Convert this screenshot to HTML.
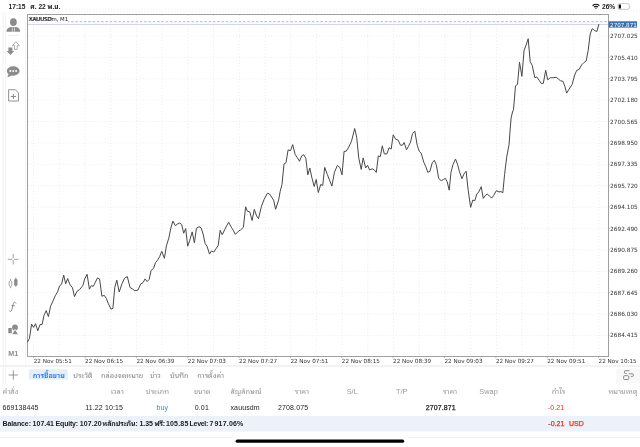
<!DOCTYPE html>
<html><head><meta charset="utf-8">
<style>
html,body{margin:0;padding:0;background:#fff;}
body{width:640px;height:447px;position:relative;overflow:hidden;font-family:"Liberation Sans","Noto Sans Thai Looped","Noto Sans Thai",sans-serif;color:#222;}
.a{position:absolute;white-space:nowrap;line-height:1;}
svg{position:absolute;left:0;top:0;}
.hd{color:#999;font-size:7.4px;top:388px;}
.rw{color:#222;font-size:7px;top:404.3px;letter-spacing:0.12px;}
.tab{color:#8a8a8e;font-size:7.3px;top:371.5px;}
.r{text-align:right;}
.bl{top:419.8px;font-size:7px;font-weight:bold;color:#222;}
</style></head><body>
<svg width="640" height="447" viewBox="0 0 640 447">
  <g stroke="#e6e6e6" stroke-width="0.8" stroke-dasharray="1,2.2"><line x1="33.5" y1="15" x2="33.5" y2="356"/><line x1="59.2" y1="15" x2="59.2" y2="356"/><line x1="84.9" y1="15" x2="84.9" y2="356"/><line x1="110.7" y1="15" x2="110.7" y2="356"/><line x1="136.4" y1="15" x2="136.4" y2="356"/><line x1="162.1" y1="15" x2="162.1" y2="356"/><line x1="187.8" y1="15" x2="187.8" y2="356"/><line x1="213.5" y1="15" x2="213.5" y2="356"/><line x1="239.3" y1="15" x2="239.3" y2="356"/><line x1="265.0" y1="15" x2="265.0" y2="356"/><line x1="290.7" y1="15" x2="290.7" y2="356"/><line x1="316.4" y1="15" x2="316.4" y2="356"/><line x1="342.1" y1="15" x2="342.1" y2="356"/><line x1="367.9" y1="15" x2="367.9" y2="356"/><line x1="393.6" y1="15" x2="393.6" y2="356"/><line x1="419.3" y1="15" x2="419.3" y2="356"/><line x1="445.0" y1="15" x2="445.0" y2="356"/><line x1="470.7" y1="15" x2="470.7" y2="356"/><line x1="496.5" y1="15" x2="496.5" y2="356"/><line x1="522.2" y1="15" x2="522.2" y2="356"/><line x1="547.9" y1="15" x2="547.9" y2="356"/><line x1="573.6" y1="15" x2="573.6" y2="356"/><line x1="599.3" y1="15" x2="599.3" y2="356"/><line x1="28" y1="36.0" x2="608" y2="36.0"/><line x1="28" y1="57.4" x2="608" y2="57.4"/><line x1="28" y1="78.8" x2="608" y2="78.8"/><line x1="28" y1="100.1" x2="608" y2="100.1"/><line x1="28" y1="121.5" x2="608" y2="121.5"/><line x1="28" y1="142.9" x2="608" y2="142.9"/><line x1="28" y1="164.3" x2="608" y2="164.3"/><line x1="28" y1="185.7" x2="608" y2="185.7"/><line x1="28" y1="207.0" x2="608" y2="207.0"/><line x1="28" y1="228.4" x2="608" y2="228.4"/><line x1="28" y1="249.8" x2="608" y2="249.8"/><line x1="28" y1="271.2" x2="608" y2="271.2"/><line x1="28" y1="292.6" x2="608" y2="292.6"/><line x1="28" y1="313.9" x2="608" y2="313.9"/><line x1="28" y1="335.3" x2="608" y2="335.3"/></g>
  <line x1="28" y1="21.7" x2="608" y2="21.7" stroke="#b4bcb4" stroke-width="1" stroke-dasharray="2.6,1.7"/>
  <line x1="28" y1="24.4" x2="608" y2="24.4" stroke="#bccadb" stroke-width="0.8"/>
  <rect x="27.5" y="14.5" width="581" height="342" fill="none" stroke="#a0a0a0" stroke-width="1"/>
  <path d="M27.3,342.3 L29.4,338.6 L31.6,324.1 L33.6,327.4 L35.5,323.7 L37.8,330.8 L40.0,324.6 L42.2,324.4 L43.9,315.7 L46.2,310.6 L48.4,316.6 L50.6,306.2 L53.4,300.0 L55.2,295.8 L57.6,291.8 L59.6,285.8 L61.6,284.2 L63.7,275.1 L65.7,283.8 L67.7,278.5 L69.7,284.2 L72.5,287.8 L74.5,296.6 L76.9,291.4 L79.4,289.8 L82.8,285.7 L84.7,279.0 L87.1,274.3 L89.4,289.2 L91.3,285.7 L93.3,286.3 L95.4,282.1 L97.5,277.9 L99.6,279.0 L101.9,296.2 L104.3,295.4 L106.3,298.3 L108.2,303.3 L111.0,309.2 L112.9,308.3 L114.8,287.3 L116.8,280.1 L119.2,292.0 L122.0,283.7 L124.6,278.2 L127.3,276.6 L130.1,287.6 L132.5,288.9 L134.8,290.7 L138.0,290.1 L140.6,284.1 L143.1,282.5 L145.1,278.9 L147.1,281.5 L149.1,279.5 L151.1,270.4 L153.5,268.4 L155.5,262.7 L157.5,260.3 L159.6,256.7 L161.8,251.3 L164.4,258.3 L166.4,245.8 L168.8,238.2 L170.8,228.1 L172.9,221.1 L175.3,225.7 L177.3,224.1 L179.7,223.1 L181.7,224.5 L183.7,233.2 L185.7,228.5 L187.7,246.2 L189.8,240.2 L192.2,231.9 L194.4,242.8 L196.4,228.3 L199.1,226.7 L201.1,227.9 L203.1,234.0 L205.1,243.4 L207.1,246.4 L209.5,254.1 L211.5,250.9 L213.8,252.1 L216.2,248.5 L218.2,245.4 L220.2,230.3 L222.2,234.8 L224.6,229.9 L226.6,225.9 L228.7,222.3 L231.3,227.3 L233.3,230.3 L235.3,234.4 L238.3,231.3 L240.7,229.9 L243.4,227.3 L245.6,206.8 L247.3,211.1 L249.8,211.9 L252.1,220.5 L254.3,209.3 L256.6,216.0 L258.5,218.6 L261.3,206.8 L264.0,199.6 L267.4,193.2 L269.6,194.0 L273.6,200.1 L275.6,209.3 L278.6,200.1 L280.2,191.3 L282.0,184.5 L284.0,164.0 L286.0,162.7 L288.1,149.9 L290.5,150.7 L292.7,144.6 L295.1,154.3 L297.1,157.3 L299.5,161.3 L301.7,155.9 L303.8,154.7 L305.8,158.3 L307.8,174.8 L309.8,168.0 L311.8,177.4 L314.2,186.5 L316.2,179.5 L318.3,192.5 L320.7,184.5 L322.7,185.5 L324.7,167.4 L327.3,174.4 L329.5,180.1 L331.9,186.1 L334.4,172.4 L337.4,165.4 L340.0,167.8 L342.0,174.8 L344.1,151.3 L346.1,151.3 L348.7,147.2 L351.5,141.2 L354.7,128.5 L356.7,137.2 L358.8,158.3 L361.2,169.4 L363.2,157.9 L365.6,168.0 L367.6,165.4 L369.6,170.0 L372.2,168.8 L374.3,170.0 L376.3,172.4 L378.3,155.9 L380.3,156.7 L382.3,145.8 L384.3,153.9 L386.9,153.9 L389.0,147.8 L391.2,149.0 L393.2,134.8 L395.6,139.1 L398.1,140.1 L400.5,145.2 L402.5,145.2 L404.1,142.5 L406.5,149.8 L408.5,146.2 L410.5,142.1 L412.5,133.7 L414.8,131.1 L417.2,145.2 L419.2,151.2 L421.2,153.2 L423.8,162.3 L425.8,166.7 L427.8,172.3 L429.9,171.3 L432.3,162.7 L434.3,160.3 L436.3,164.7 L438.7,178.4 L441.3,180.8 L443.4,179.4 L445.4,178.4 L447.2,181.8 L449.2,190.2 L451.0,172.2 L453.1,164.2 L455.5,159.1 L457.5,164.2 L459.5,171.8 L461.9,178.7 L464.1,173.8 L466.1,171.2 L468.2,190.3 L470.6,207.4 L472.8,200.0 L474.8,200.8 L476.8,194.0 L478.8,191.9 L481.2,186.7 L483.3,198.4 L485.3,195.4 L487.3,194.0 L489.3,196.0 L491.7,198.0 L493.7,195.4 L496.3,190.7 L499.0,191.9 L501.0,191.6 L502.8,192.8 L504.6,174.3 L506.7,157.2 L509.1,144.2 L510.1,130.1 L511.1,118.0 L512.5,112.0 L513.5,109.6 L515.5,85.8 L517.5,84.4 L519.5,62.2 L521.9,76.3 L524.1,50.2 L526.1,45.1 L528.2,38.7 L530.2,61.6 L532.2,65.3 L534.8,77.7 L536.8,76.9 L539.2,80.4 L541.2,83.4 L543.3,83.4 L545.7,70.3 L547.7,79.8 L550.3,77.7 L553.3,77.7 L556.3,77.3 L558.4,79.0 L560.5,80.8 L562.9,81.2 L564.8,86.3 L566.7,93.1 L569.1,89.1 L572.1,84.5 L574.7,75.0 L576.7,70.4 L579.2,69.4 L581.6,64.9 L584.2,62.3 L586.2,60.9 L588.2,50.2 L590.2,34.1 L592.2,28.7 L594.9,30.7 L596.9,31.5 L598.9,24.1" fill="none" stroke="#484848" stroke-width="1.0" stroke-linejoin="round"/>
  <g font-family="DejaVu Sans" font-size="5.8" fill="#333"><text x="610.1" y="38.1">2707.025</text><text x="610.1" y="59.5">2705.410</text><text x="610.1" y="80.9">2703.795</text><text x="610.1" y="102.2">2702.180</text><text x="610.1" y="123.6">2700.565</text><text x="610.1" y="145.0">2698.950</text><text x="610.1" y="166.4">2697.335</text><text x="610.1" y="187.8">2695.720</text><text x="610.1" y="209.1">2694.105</text><text x="610.1" y="230.5">2692.490</text><text x="610.1" y="251.9">2690.875</text><text x="610.1" y="273.3">2689.260</text><text x="610.1" y="294.7">2687.645</text><text x="610.1" y="316.0">2686.030</text><text x="610.1" y="337.4">2684.415</text></g>
  <g font-family="DejaVu Sans" font-size="5.65" fill="#333"><text x="33.7" y="362.8">22 Nov 05:51</text><text x="85.1" y="362.8">22 Nov 06:15</text><text x="136.4" y="362.8">22 Nov 06:39</text><text x="187.8" y="362.8">22 Nov 07:03</text><text x="239.1" y="362.8">22 Nov 07:27</text><text x="290.4" y="362.8">22 Nov 07:51</text><text x="341.8" y="362.8">22 Nov 08:15</text><text x="393.1" y="362.8">22 Nov 08:39</text><text x="444.5" y="362.8">22 Nov 09:03</text><text x="495.9" y="362.8">22 Nov 09:27</text><text x="547.2" y="362.8">22 Nov 09:51</text><text x="598.6" y="362.8">22 Nov 10:15</text></g>
  <g stroke="#a0a0a0" stroke-width="0.8"><line x1="33.7" y1="356.5" x2="33.7" y2="358"/><line x1="85.1" y1="356.5" x2="85.1" y2="358"/><line x1="136.4" y1="356.5" x2="136.4" y2="358"/><line x1="187.8" y1="356.5" x2="187.8" y2="358"/><line x1="239.1" y1="356.5" x2="239.1" y2="358"/><line x1="290.4" y1="356.5" x2="290.4" y2="358"/><line x1="341.8" y1="356.5" x2="341.8" y2="358"/><line x1="393.1" y1="356.5" x2="393.1" y2="358"/><line x1="444.5" y1="356.5" x2="444.5" y2="358"/><line x1="495.9" y1="356.5" x2="495.9" y2="358"/><line x1="547.2" y1="356.5" x2="547.2" y2="358"/><line x1="598.6" y1="356.5" x2="598.6" y2="358"/><line x1="608.5" y1="36.0" x2="609.8" y2="36.0"/><line x1="608.5" y1="57.4" x2="609.8" y2="57.4"/><line x1="608.5" y1="78.8" x2="609.8" y2="78.8"/><line x1="608.5" y1="100.1" x2="609.8" y2="100.1"/><line x1="608.5" y1="121.5" x2="609.8" y2="121.5"/><line x1="608.5" y1="142.9" x2="609.8" y2="142.9"/><line x1="608.5" y1="164.3" x2="609.8" y2="164.3"/><line x1="608.5" y1="185.7" x2="609.8" y2="185.7"/><line x1="608.5" y1="207.0" x2="609.8" y2="207.0"/><line x1="608.5" y1="228.4" x2="609.8" y2="228.4"/><line x1="608.5" y1="249.8" x2="609.8" y2="249.8"/><line x1="608.5" y1="271.2" x2="609.8" y2="271.2"/><line x1="608.5" y1="292.6" x2="609.8" y2="292.6"/><line x1="608.5" y1="313.9" x2="609.8" y2="313.9"/><line x1="608.5" y1="335.3" x2="609.8" y2="335.3"/></g>
  <rect x="608.6" y="21.3" width="28.4" height="6.3" fill="#3d6ea8"/>
  <text x="610.1" y="26.6" font-family="DejaVu Sans" font-size="5.6" fill="#fff">2707.871</text>
  <rect x="28" y="15" width="40" height="7.4" fill="#fff"/>
  <text x="28.6" y="20.9" font-family="DejaVu Sans" font-size="5.4" fill="#222">XAUUSDm, M1</text>
  <text x="29.2" y="20.9" font-family="DejaVu Sans" font-size="5.4" fill="#222">XAUUSD</text>
  <g stroke="#f0f0f0" stroke-width="0.8" stroke-dasharray="1.5,1.5"><line x1="66" y1="9.2" x2="640" y2="9.2"/><line x1="66" y1="11.4" x2="640" y2="11.4"/></g>
  <!-- left toolbar -->
  <g stroke="#f1f1f1" stroke-width="0.8"><line x1="3.2" y1="12" x2="3.2" y2="384"/><line x1="5.6" y1="12" x2="5.6" y2="384"/><line x1="25.6" y1="12" x2="25.6" y2="366"/></g>
  <g fill="#8c8c8c">
    <ellipse cx="13.4" cy="22.1" rx="3.4" ry="3.9"/>
    <path d="M6.4,31.8 C6.5,29 8,27.6 11,27.1 L15.8,27.1 C18.8,27.6 20,29 20.1,31.8 Z"/>
  </g>
  <path d="M12.3,27.3 L12.3,31.8 M14.5,27.3 L14.5,31.8" stroke="#fff" stroke-width="0.6"/>
  <line x1="8" y1="35.3" x2="18.5" y2="35.3" stroke="#e4e4e4" stroke-width="0.7"/>
  <path d="M8.4,47.4 L12.4,47.4 L12.4,51 L14.1,51 L10.4,55.1 L6.7,51 L8.4,51 Z" fill="#8c8c8c"/>
  <path d="M14.6,49.4 L17.2,49.4 L17.2,45.7 L19.4,45.7 L15.9,41.7 L12.4,45.7 L14.6,45.7 Z" fill="#fff" stroke="#8c8c8c" stroke-width="0.7"/>
  <ellipse cx="13.2" cy="71" rx="6.4" ry="4.7" fill="#8c8c8c"/>
  <path d="M8.9,73.6 L7.3,77.3 L12,75.4 Z" fill="#8c8c8c"/>
  <g fill="#fff"><circle cx="10.3" cy="71" r="0.95"/><circle cx="13.2" cy="71" r="0.95"/><circle cx="16.1" cy="71" r="0.95"/></g>
  <path d="M8.6,89.7 L15.3,89.7 L18.5,92.9 L18.5,101 L8.6,101 Z" fill="none" stroke="#8c8c8c" stroke-width="0.95"/>
  <path d="M13.4,93.9 L13.4,99.1 M10.8,96.5 L16,96.5" stroke="#8c8c8c" stroke-width="1.05"/>
  <g stroke="#8e8e8e" stroke-width="0.85"><path d="M7.8,259.3 L12.3,259.3 M14.1,259.3 L18.5,259.3 M13.2,254 L13.2,258.4 M13.2,260.2 L13.2,264.4"/></g>
  <g stroke="#8c8c8c" stroke-width="0.75"><path d="M10.5,279 L10.5,288.2 M15.8,277.3 L15.8,287"/></g>
  <path d="M10.5,280.4 L11.8,281.6 L11.8,285.6 L10.5,286.8 L9.2,285.6 L9.2,281.6 Z" fill="#fff" stroke="#8c8c8c" stroke-width="0.8"/>
  <path d="M15.8,278.4 L17.5,279.8 L17.5,285 L15.8,286.2 L14.1,285 L14.1,279.8 Z" fill="#8c8c8c"/>
  <path d="M15.9,303.1 C15.3,301.9 13.7,301.9 13.3,303.6 L11.8,309.9 C11.4,311.6 10.3,311.8 9.6,311" fill="none" stroke="#858585" stroke-width="0.95" stroke-linecap="round"/>
  <path d="M11.4,305.7 L14.9,305.7" stroke="#858585" stroke-width="0.85"/>
  <rect x="8.3" y="328" width="3.5" height="5.2" rx="0.5" fill="#8c8c8c"/>
  <circle cx="15" cy="327.4" r="2.9" fill="#8c8c8c"/>
  <path d="M15.1,329.3 L18.5,334.6 L11.7,334.6 Z" fill="#8c8c8c" stroke="#fff" stroke-width="0.7"/>
  <text x="8.3" y="356.1" font-family="Liberation Sans" font-weight="bold" font-size="7.2" fill="#8c8c8c">M1</text>
  <!-- status icons -->
  <g fill="#111"><path d="M592.2,5.3 A5.5,5.5 0 0 1 599.7,5.3 L598.9,6.2 A4.3,4.3 0 0 0 593,6.2 Z"/><path d="M593.6,6.8 A3.6,3.6 0 0 1 598.3,6.8 L597.5,7.6 A2.4,2.4 0 0 0 594.4,7.6 Z"/><path d="M595,8.1 A1.6,1.6 0 0 1 596.9,8.1 L595.95,9 Z"/></g>
  <rect x="618" y="3.6" width="11.3" height="5.8" rx="1.5" fill="none" stroke="#b5b5b5" stroke-width="0.7"/>
  <rect x="618.8" y="4.6" width="2.2" height="3.9" rx="0.6" fill="#111"/>
  <path d="M629.9,5.6 Q631,6.5 629.9,7.4 Z" fill="#b5b5b5"/>
  <!-- bottom panel -->
  <line x1="0" y1="366" x2="640" y2="366" stroke="#eeeeee" stroke-width="1.6"/>
  <path d="M13.3,370.4 L13.3,379.6 M8.7,375 L17.9,375" stroke="#8a8a8a" stroke-width="0.9"/>
  <rect x="29" y="369.3" width="38.7" height="10.4" rx="1.5" fill="#e5effb"/>
  <rect x="616.2" y="368.6" width="23.8" height="14.8" fill="#f8f8f8"/>
  <g fill="none" stroke="#7a7a7a" stroke-width="0.9">
    <path d="M629.3,370.7 L625.3,370.7 Q624.5,370.7 624.5,371.5 L624.5,372.6 Q624.5,373.4 625.3,373.4 L626.6,373.4"/>
    <path d="M628.9,373.8 L632.5,373.8 Q633.3,373.8 633.3,374.6 L633.3,375.6 Q633.3,376.4 632.5,376.4 L630.9,376.4"/>
    <rect x="623.6" y="375.7" width="5.2" height="3.8" rx="1"/>
  </g>
  <rect x="0" y="415.9" width="640" height="15.6" fill="#edf1fa"/>
  <path d="M0,437.4 L233,437.4 M408,437.4 L640,437.4" stroke="#ececec" stroke-width="0.7"/>
  <rect x="235.6" y="439.6" width="168.6" height="3.2" rx="1.6" fill="#000"/>
</svg>
<div class="a" style="left:8.6px;top:4.1px;font-size:6.6px;font-weight:bold;">17:15</div>
<div class="a" style="left:30.3px;top:4.1px;font-size:6.6px;font-weight:bold;">ศ. 22 พ.ย.</div>
<div class="a" style="left:602px;top:4.1px;font-size:6.6px;font-weight:bold;">26%</div>

<div class="a tab" style="left:32.8px;color:#1f7ae6;font-weight:600;">การซื้อขาย</div>
<div class="a tab" style="left:73.3px;">ประวัติ</div>
<div class="a tab" style="left:101px;">กล่องจดหมาย</div>
<div class="a tab" style="left:150.3px;">ข่าว</div>
<div class="a tab" style="left:170px;">บันทึก</div>
<div class="a tab" style="left:197.2px;">การตั้งค่า</div>

<div class="a hd" style="left:2.6px;">คำสั่ง</div>
<div class="a hd r" style="right:516.2px;">เวลา</div>
<div class="a hd r" style="right:471px;">ประเภท</div>
<div class="a hd r" style="right:429.5px;">ขนาด</div>
<div class="a hd" style="left:230.5px;">สัญลักษณ์</div>
<div class="a hd r" style="right:331px;">ราคา</div>
<div class="a hd" style="left:346.7px;">S/L</div>
<div class="a hd" style="left:395.9px;">T/P</div>
<div class="a hd r" style="right:182.8px;">ราคา</div>
<div class="a hd" style="left:479.3px;">Swap</div>
<div class="a hd r" style="right:74.8px;">กำไร</div>
<div class="a hd r" style="right:2.4px;">หมายเหตุ</div>

<div class="a rw" style="left:2.5px;">669138445</div>
<div class="a rw r" style="right:517px;">11.22 10:15</div>
<div class="a rw r" style="right:471.9px;color:#2f86e6;">buy</div>
<div class="a rw r" style="right:431.1px;">0.01</div>
<div class="a rw" style="left:230.5px;">xauusdm</div>
<div class="a rw r" style="right:331.8px;">2708.075</div>
<div class="a rw r" style="right:184.2px;-webkit-text-stroke:0.25px #222;">2707.871</div>
<div class="a rw r" style="right:75.7px;color:#d9342b;">-0.21</div>

<div class="a bl" style="left:2.5px;letter-spacing:-0.1px;">Balance:</div>
<div class="a bl" style="left:32.6px;">107.41</div>
<div class="a bl" style="left:55.6px;letter-spacing:-0.2px;">Equity:</div>
<div class="a bl" style="left:79.8px;letter-spacing:0.1px;">107.20</div>
<div class="a bl" style="left:102.5px;letter-spacing:-0.12px;">หลักประกัน:</div>
<div class="a bl" style="left:139.4px;">1.35</div>
<div class="a bl" style="left:154.6px;letter-spacing:-0.3px;">ฟรี:</div>
<div class="a bl" style="left:165.9px;letter-spacing:0.2px;">105.85</div>
<div class="a bl" style="left:189.6px;letter-spacing:-0.3px;">Level:</div>
<div class="a bl" style="left:209.4px;">7</div>
<div class="a bl" style="left:214.5px;letter-spacing:0.2px;">917.06%</div>
<div class="a r" style="right:75.7px;top:419.8px;font-size:7px;color:#d9342b;-webkit-text-stroke:0.25px #d9342b;">-0.21</div>
<div class="a" style="left:569px;top:419.8px;font-size:7px;color:#d9342b;-webkit-text-stroke:0.25px #d9342b;">USD</div>
</body></html>
